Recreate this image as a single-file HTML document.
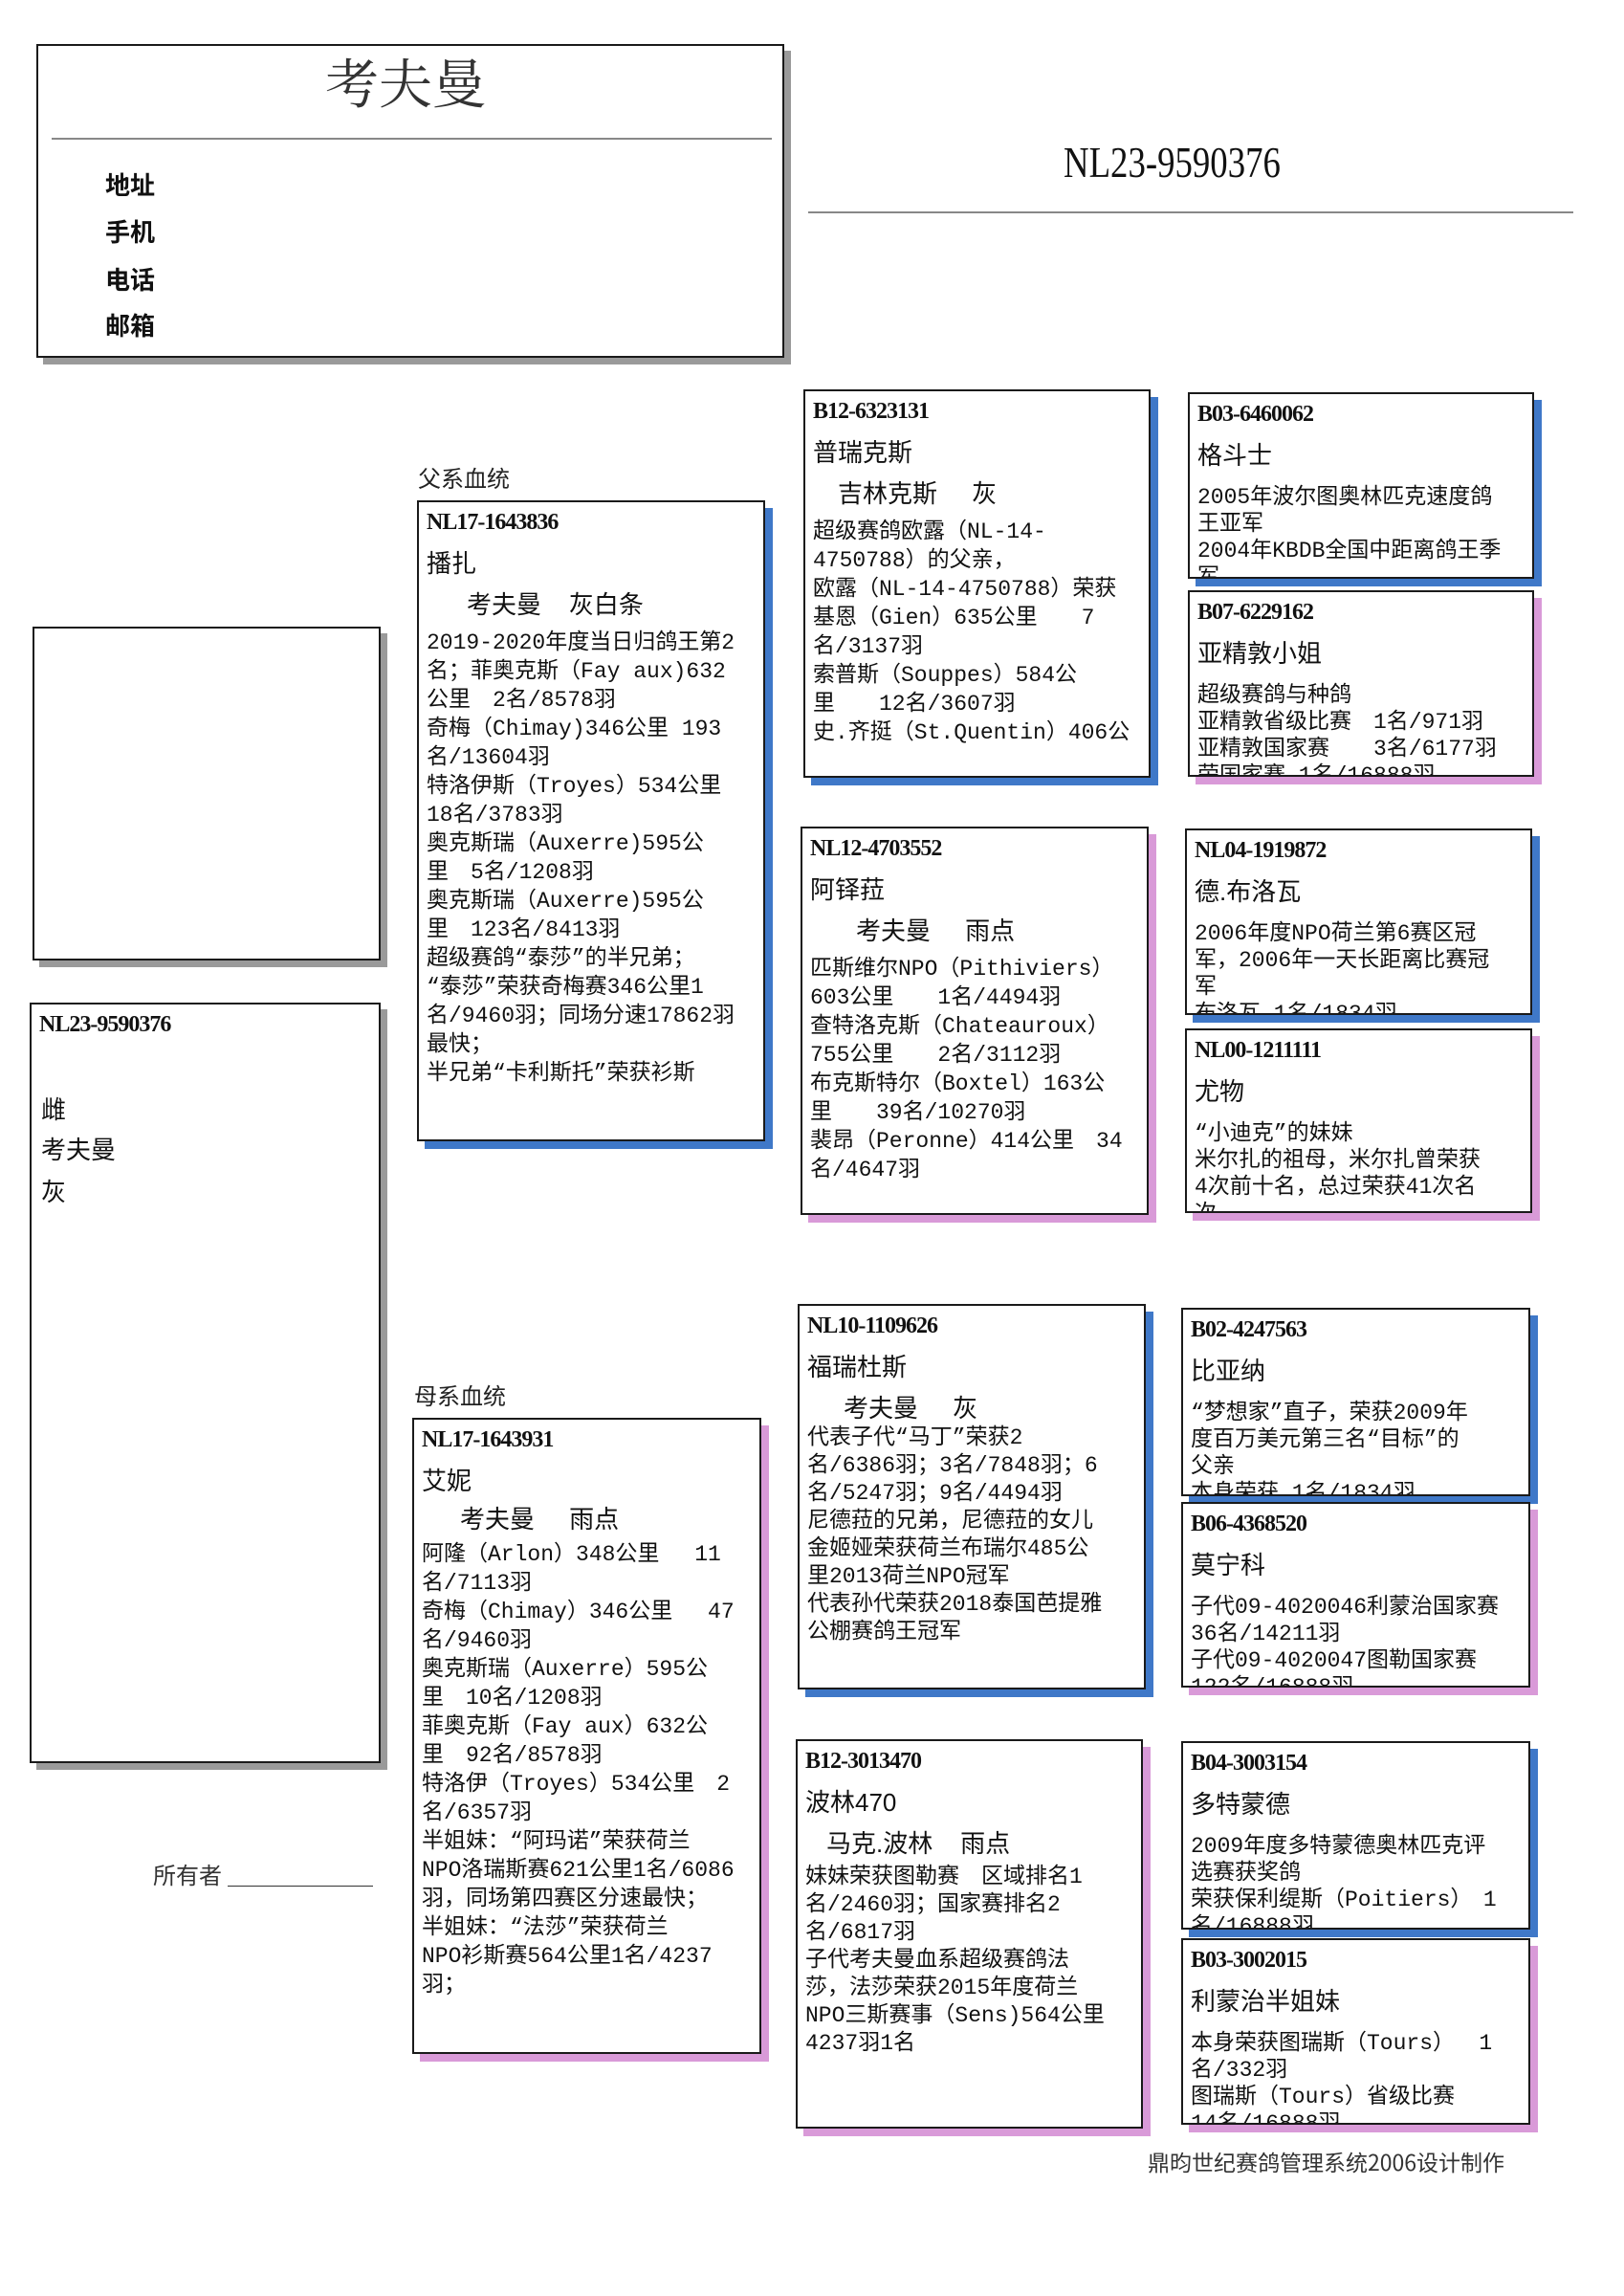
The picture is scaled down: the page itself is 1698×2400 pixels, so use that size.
<!DOCTYPE html>
<html><head><meta charset="utf-8"><style>
body{margin:0;background:#fff;}
#p{position:relative;width:1698px;height:2400px;overflow:hidden;background:#fff;font-family:"Liberation Serif","Noto Serif CJK SC","Noto Sans CJK SC",serif;color:#111;}
.a{position:absolute;white-space:nowrap;}
.box{position:absolute;border:2px solid #1a1a1a;background:#fff;overflow:hidden;box-sizing:border-box;}
.b{box-shadow:8px 8px 0 #3f78c8;}
.pk{box-shadow:8px 8px 0 #d99ad8;}
.g{box-shadow:7px 7px 0 #9a9a9a;}
.id{position:absolute;left:8px;top:4px;font:bold 24px/34px "Liberation Serif","Noto Sans CJK SC",serif;letter-spacing:-1px;}
.nm{position:absolute;left:8px;top:46px;font:26px/36px "Liberation Sans","Noto Sans CJK SC",sans-serif;}
.br{position:absolute;left:50px;top:89px;font:26px/36px "Liberation Sans","Noto Sans CJK SC",sans-serif;}
.tx{position:absolute;left:8px;font:23px/30px "Liberation Mono","Noto Sans CJK SC",monospace;transform-origin:0 0;}
.s .tx{line-height:28px;}
</style></head><body><div id="p">

<div class="box g" style="left:38px;top:46px;width:782px;height:328px;"></div>
<div class="a" style="left:340px;top:56px;font:56px/68px 'Liberation Serif','Noto Serif CJK SC',serif;color:#333;">考夫曼</div>
<div class="a" style="left:54px;top:144px;width:753px;height:2px;background:#888;"></div>
<div class="a" style="left:110px;top:178px;font:bold 26px/30px 'Noto Sans CJK SC',sans-serif;">地址</div>
<div class="a" style="left:110px;top:227px;font:bold 26px/30px 'Noto Sans CJK SC',sans-serif;">手机</div>
<div class="a" style="left:110px;top:277px;font:bold 26px/30px 'Noto Sans CJK SC',sans-serif;">电话</div>
<div class="a" style="left:110px;top:325px;font:bold 26px/30px 'Noto Sans CJK SC',sans-serif;">邮箱</div>
<div class="a" style="left:1112px;top:142px;font:46px/56px 'Liberation Serif',serif;transform:scaleX(0.8);transform-origin:0 0;">NL23-9590376</div>
<div class="a" style="left:845px;top:221px;width:800px;height:2px;background:#888;"></div>

<div class="box g" style="left:34px;top:655px;width:364px;height:349px;"></div>
<div class="box g" style="left:31px;top:1048px;width:367px;height:795px;">
<div class="id" style="top:4px;">NL23-9590376</div>
<div class="a" style="left:10px;top:89px;font:26px/40px 'Noto Sans CJK SC',sans-serif;">雌</div>
<div class="a" style="left:10px;top:131px;font:26px/40px 'Noto Sans CJK SC',sans-serif;">考夫曼</div>
<div class="a" style="left:10px;top:175px;font:26px/40px 'Noto Sans CJK SC',sans-serif;">灰</div>
</div>
<div class="a" style="left:160px;top:1944px;font:24px/30px 'Noto Sans CJK SC',sans-serif;color:#333;">所有者</div>
<div class="a" style="left:238px;top:1971px;width:152px;height:1px;background:#333;"></div>

<div class="a" style="left:437px;top:484px;font:24px/30px 'Noto Sans CJK SC',sans-serif;color:#222;">父系血统</div>
<div class="box b" style="left:436px;top:523px;width:364px;height:670px;">
<div class="id">NL17-1643836</div><div class="nm">播扎</div>
<div class="br">考夫曼&nbsp;&nbsp;&nbsp;&nbsp;灰白条</div>
<div class="tx" style="top:132px;">2019-2020年度当日归鸽王第2<br>名；菲奥克斯（Fay aux)632<br>公里　2名/8578羽<br>奇梅（Chimay)346公里 193<br>名/13604羽<br>特洛伊斯（Troyes）534公里<br>18名/3783羽<br>奥克斯瑞（Auxerre)595公<br>里　5名/1208羽<br>奥克斯瑞（Auxerre)595公<br>里　123名/8413羽<br>超级赛鸽“泰莎”的半兄弟；<br>“泰莎”荣获奇梅赛346公里1<br>名/9460羽；同场分速17862羽<br>最快；<br>半兄弟“卡利斯托”荣获衫斯</div>
</div>

<div class="box b" style="left:840px;top:407px;width:363px;height:406px;">
<div class="id">B12-6323131</div><div class="nm">普瑞克斯</div>
<div class="br" style="left:34px;">吉林克斯&nbsp;&nbsp;&nbsp;&nbsp;&nbsp;灰</div>
<div class="tx" style="top:132px;">超级赛鸽欧露（NL-14-<br>4750788）的父亲，<br>欧露（NL-14-4750788）荣获<br>基恩（Gien）635公里　　7<br>名/3137羽<br>索普斯（Souppes）584公<br>里　　12名/3607羽<br>史.齐挺（St.Quentin）406公</div>
</div>

<div class="box b s" style="left:1242px;top:410px;width:362px;height:195px;">
<div class="id">B03-6460062</div><div class="nm">格斗士</div>
<div class="tx" style="top:94px;">2005年波尔图奥林匹克速度鸽<br>王亚军<br>2004年KBDB全国中距离鸽王季<br>军</div>
</div>
<div class="box pk s" style="left:1242px;top:617px;width:362px;height:195px;">
<div class="id">B07-6229162</div><div class="nm">亚精敦小姐</div>
<div class="tx" style="top:94px;">超级赛鸽与种鸽<br>亚精敦省级比赛　1名/971羽<br>亚精敦国家赛　　3名/6177羽<br>荣国家赛 1名/16888羽</div>
</div>

<div class="box pk" style="left:837px;top:864px;width:364px;height:406px;">
<div class="id">NL12-4703552</div><div class="nm">阿铎菈</div>
<div class="br" style="left:56px;">考夫曼&nbsp;&nbsp;&nbsp;&nbsp;&nbsp;雨点</div>
<div class="tx" style="top:132px;">匹斯维尔NPO（Pithiviers）<br>603公里　　1名/4494羽<br>查特洛克斯（Chateauroux）<br>755公里　　2名/3112羽<br>布克斯特尔（Boxtel）163公<br>里　　39名/10270羽<br>裴昂（Peronne）414公里　34<br>名/4647羽</div>
</div>

<div class="box b s" style="left:1239px;top:866px;width:363px;height:195px;">
<div class="id">NL04-1919872</div><div class="nm">德.布洛瓦</div>
<div class="tx" style="top:94px;">2006年度NPO荷兰第6赛区冠<br>军，2006年一天长距离比赛冠<br>军<br>布洛瓦 1名/1834羽</div>
</div>
<div class="box pk s" style="left:1239px;top:1075px;width:363px;height:193px;">
<div class="id">NL00-1211111</div><div class="nm">尤物</div>
<div class="tx" style="top:94px;">“小迪克”的妹妹<br>米尔扎的祖母，米尔扎曾荣获<br>4次前十名，总过荣获41次名<br>次</div>
</div>

<div class="a" style="left:433px;top:1443px;font:24px/30px 'Noto Sans CJK SC',sans-serif;color:#222;">母系血统</div>
<div class="box pk" style="left:431px;top:1482px;width:365px;height:665px;">
<div class="id">NL17-1643931</div><div class="nm">艾妮</div>
<div class="br" style="left:48px;top:86px;">考夫曼&nbsp;&nbsp;&nbsp;&nbsp;&nbsp;雨点</div>
<div class="tx" style="top:126px;">阿隆（Arlon）348公里　 11<br>名/7113羽<br>奇梅（Chimay）346公里　 47<br>名/9460羽<br>奥克斯瑞（Auxerre）595公<br>里　10名/1208羽<br>菲奥克斯（Fay aux）632公<br>里　92名/8578羽<br>特洛伊（Troyes）534公里　2<br>名/6357羽<br>半姐妹：“阿玛诺”荣获荷兰<br>NPO洛瑞斯赛621公里1名/6086<br>羽，同场第四赛区分速最快；<br>半姐妹：“法莎”荣获荷兰<br>NPO衫斯赛564公里1名/4237<br>羽；</div>
</div>

<div class="box b" style="left:834px;top:1363px;width:364px;height:403px;">
<div class="id">NL10-1109626</div><div class="nm">福瑞杜斯</div>
<div class="br" style="left:46px;">考夫曼&nbsp;&nbsp;&nbsp;&nbsp;&nbsp;灰</div>
<div class="tx" style="top:124px;line-height:29px;">代表子代“马丁”荣获2<br>名/6386羽；3名/7848羽；6<br>名/5247羽；9名/4494羽<br>尼德菈的兄弟，尼德菈的女儿<br>金姬娅荣获荷兰布瑞尔485公<br>里2013荷兰NPO冠军<br>代表孙代荣获2018泰国芭提雅<br>公棚赛鸽王冠军</div>
</div>

<div class="box b s" style="left:1235px;top:1367px;width:365px;height:197px;">
<div class="id">B02-4247563</div><div class="nm">比亚纳</div>
<div class="tx" style="top:94px;">“梦想家”直子，荣获2009年<br>度百万美元第三名“目标”的<br>父亲<br>本身荣获 1名/1834羽</div>
</div>
<div class="box pk s" style="left:1235px;top:1570px;width:365px;height:194px;">
<div class="id">B06-4368520</div><div class="nm">莫宁科</div>
<div class="tx" style="top:94px;">子代09-4020046利蒙治国家赛<br>36名/14211羽<br>子代09-4020047图勒国家赛<br>122名/16888羽</div>
</div>

<div class="box pk" style="left:832px;top:1818px;width:363px;height:407px;">
<div class="id">B12-3013470</div><div class="nm">波林470</div>
<div class="br" style="left:30px;">马克.波林&nbsp;&nbsp;&nbsp;&nbsp;雨点</div>
<div class="tx" style="top:128px;line-height:29px;">妹妹荣获图勒赛　区域排名1<br>名/2460羽；国家赛排名2<br>名/6817羽<br>子代考夫曼血系超级赛鸽法<br>莎，法莎荣获2015年度荷兰<br>NPO三斯赛事（Sens)564公里<br>4237羽1名</div>
</div>

<div class="box b s" style="left:1235px;top:1820px;width:365px;height:197px;">
<div class="id">B04-3003154</div><div class="nm">多特蒙德</div>
<div class="tx" style="top:94px;">2009年度多特蒙德奥林匹克评<br>选赛获奖鸽<br>荣获保利缇斯（Poitiers）　1<br>名/16888羽</div>
</div>
<div class="box pk s" style="left:1235px;top:2026px;width:365px;height:195px;">
<div class="id">B03-3002015</div><div class="nm">利蒙治半姐妹</div>
<div class="tx" style="top:94px;">本身荣获图瑞斯（Tours）　 1<br>名/332羽<br>图瑞斯（Tours）省级比赛<br>14名/16888羽</div>
</div>

<div class="a" style="left:1200px;top:2244px;font:23px/30px 'Noto Sans CJK SC',sans-serif;color:#333;">鼎昀世纪赛鸽管理系统2006设计制作</div>
</div></body></html>
